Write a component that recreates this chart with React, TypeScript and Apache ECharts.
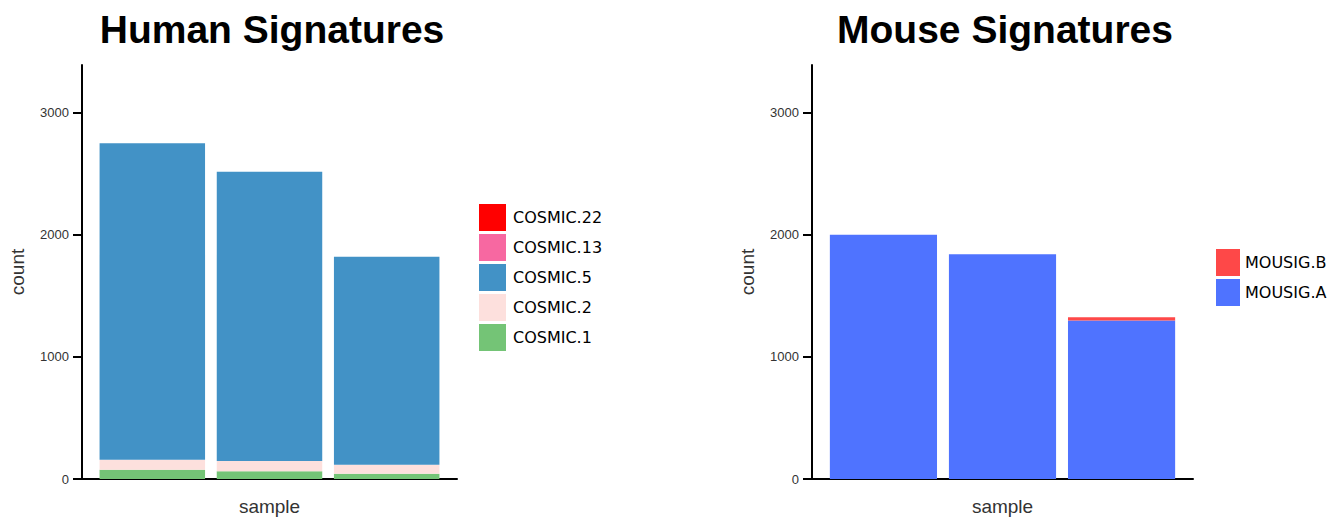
import React, { useEffect, useRef } from "react";
import * as echarts from "echarts";

// Sample names along the x axis (three samples per panel, unlabeled)
const samples = ["S1", "S2", "S3"];

// Human signature counts per sample (stacked bottom to top)
const cosmic1 = [76, 63, 43];
const cosmic2 = [82, 85, 74];
const cosmic5 = [2592, 2368, 1703];
const cosmic13 = [0, 0, 0];
const cosmic22 = [0, 0, 0];

// Mouse signature counts per sample
const mousigA = [2000, 1840, 1297];
const mousigB = [0, 0, 28];

const yTicks = [0, 1000, 2000, 3000];
const yMax = 3390;

const humanLegend = ["COSMIC.22", "COSMIC.13", "COSMIC.5", "COSMIC.2", "COSMIC.1"];
const mouseLegend = ["MOUSIG.B", "MOUSIG.A"];

const colors: Record<string, string> = {
  "COSMIC.1": "#74c476",
  "COSMIC.2": "#fde0dd",
  "COSMIC.5": "#4292c6",
  "COSMIC.13": "#f768a1",
  "COSMIC.22": "#ff0000",
  "MOUSIG.A": "#4f73ff",
  "MOUSIG.B": "#fe4848",
};

const SANS = "Liberation Sans, Arial, sans-serif";

// Panel frames: the axis frame spans x in [0.4, 3.6] sample units,
// the bar bands occupy [0.5, 3.5] inside it.
const TOP = 65;
const BOTTOM = 39;
function panelGrids(left: number, width: number) {
  const unit = width / 3.2;
  return [
    { left, top: TOP, width, bottom: BOTTOM, outerBoundsMode: "none" },
    { left: left + unit * 0.1, top: TOP, width: unit * 3, bottom: BOTTOM, outerBoundsMode: "none" },
  ];
}

function frameXAxis(gridIndex: number) {
  return {
    type: "value" as const,
    gridIndex,
    min: 0,
    max: 1,
    name: "sample",
    nameLocation: "middle" as const,
    nameGap: 18,
    nameTextStyle: { fontFamily: SANS, fontSize: 19, color: "#333" },
    axisLine: { show: true, onZero: false, lineStyle: { color: "#000", width: 2 } },
    axisTick: { show: false },
    axisLabel: { show: false },
    splitLine: { show: false },
  };
}

function barXAxis(gridIndex: number) {
  return {
    type: "category" as const,
    gridIndex,
    data: samples,
    axisLine: { show: false },
    axisTick: { show: false },
    axisLabel: { show: false },
    splitLine: { show: false },
  };
}

function frameYAxis(gridIndex: number) {
  return {
    type: "value" as const,
    gridIndex,
    min: 0,
    max: yMax,
    interval: 1000,
    name: "count",
    nameLocation: "middle" as const,
    nameGap: 55,
    nameTextStyle: { fontFamily: SANS, fontSize: 19, color: "#333" },
    axisLine: { show: true, lineStyle: { color: "#000", width: 2 } },
    axisTick: {
      show: true,
      length: 9,
      customValues: yTicks,
      lineStyle: { color: "#000", width: 2 },
    },
    axisLabel: {
      showMaxLabel: false,
      formatter: (v: number) => String(v),
      fontFamily: SANS,
      fontSize: 13,
      color: "#333",
      margin: 13,
    },
    splitLine: { show: false },
  };
}

function barYAxis(gridIndex: number) {
  return {
    type: "value" as const,
    gridIndex,
    min: 0,
    max: yMax,
    show: false,
    splitLine: { show: false },
  };
}

function barSeries(name: string, values: number[], idx: number, stack: string) {
  return {
    type: "bar" as const,
    name,
    xAxisIndex: idx,
    yAxisIndex: idx,
    stack,
    barCategoryGap: "10%",
    data: values,
    itemStyle: { color: colors[name] },
  };
}

export default function App() {
  const ref = useRef<HTMLDivElement>(null);

  useEffect(() => {
    if (!ref.current) return;
    const chart = echarts.init(ref.current, undefined, { renderer: "svg" });
    chart.setOption({
      animation: false,
      backgroundColor: "#fff",
      title: [
        {
          text: "Human Signatures",
          left: 267,
          top: 5,
          textAlign: "center",
          textStyle: { fontFamily: SANS, fontSize: 39, fontWeight: "bold", color: "#000" },
        },
        {
          text: "Mouse Signatures",
          left: 1000,
          top: 5,
          textAlign: "center",
          textStyle: { fontFamily: SANS, fontSize: 39, fontWeight: "bold", color: "#000" },
        },
      ],
      legend: [
        {
          data: humanLegend,
          orient: "vertical",
          left: 479,
          top: 204,
          padding: 0,
          itemWidth: 27,
          itemHeight: 27,
          itemGap: 3,
          icon: "rect",
          textStyle: { fontFamily: "DejaVu Sans", fontSize: 16, color: "#000", padding: [0, 0, 0, 2] },
          selectedMode: false,
        },
        {
          data: mouseLegend,
          orient: "vertical",
          left: 1216,
          top: 249,
          padding: 0,
          itemWidth: 24,
          itemHeight: 27,
          itemGap: 3,
          icon: "rect",
          textStyle: { fontFamily: "DejaVu Sans", fontSize: 16, color: "#000" },
          selectedMode: false,
        },
      ],
      grid: [...panelGrids(82, 375), ...panelGrids(812, 381)],
      xAxis: [frameXAxis(0), barXAxis(1), frameXAxis(2), barXAxis(3)],
      yAxis: [frameYAxis(0), barYAxis(1), frameYAxis(2), barYAxis(3)],
      series: [
        barSeries("COSMIC.1", cosmic1, 1, "human"),
        barSeries("COSMIC.2", cosmic2, 1, "human"),
        barSeries("COSMIC.5", cosmic5, 1, "human"),
        barSeries("COSMIC.13", cosmic13, 1, "human"),
        barSeries("COSMIC.22", cosmic22, 1, "human"),
        barSeries("MOUSIG.A", mousigA, 3, "mouse"),
        barSeries("MOUSIG.B", mousigB, 3, "mouse"),
      ],
    });
    return () => chart.dispose();
  }, []);

  return (
    <div
      ref={ref}
      style={{ position: "absolute", left: 0, top: 0, width: 1342, height: 518 }}
    />
  );
}
